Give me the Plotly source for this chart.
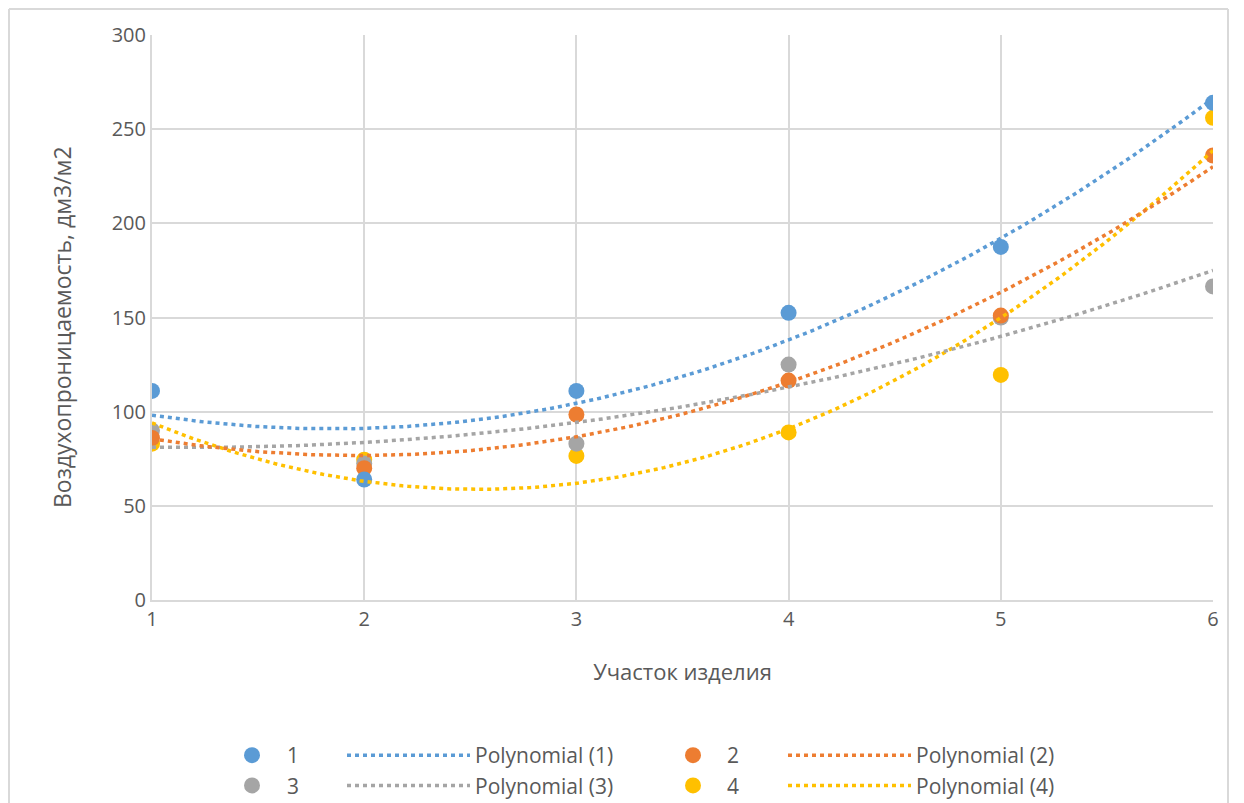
import numpy as np
import plotly.graph_objects as go

# ---- data ----
sections = [1, 2, 3, 4, 5, 6]
series_names = ["1", "2", "3", "4"]
s1 = [111, 64, 111, 152.5, 187.5, 264]
s2 = [86, 70, 98.5, 116.5, 151, 236]
s3 = [90, 72.5, 83, 125, 150, 166.5]
s4 = [83, 74.5, 76.5, 89, 119.5, 256]
colors = ["#5B9BD5", "#ED7D31", "#A5A5A5", "#FFC000"]
y_ticks = [0, 50, 100, 150, 200, 250, 300]

series = [s1, s2, s3, s4]

# page body adds an 8px offset; work in screen px and convert
OFF = 8
W, H = 1244, 803
sL, sR, sT, sB = 152, 1213, 35, 600  # plot area in screen px
L = sL - OFF
T = sT - OFF
R = W - (sR - OFF)
B = H - (sB - OFF)
pw = sR - sL
ph = sB - sT

def px_x(p):
    return (p - sL) / pw

def px_y(p):
    return (sB - p) / ph

font_family = "Open Sans, DejaVu Sans, sans-serif"
txt = "#595959"

fig = go.Figure()

# markers drawn in reverse order (series 1 on top)
for i in reversed(range(4)):
    leg = "legend" if i in (0, 2) else "legend3"
    fig.add_trace(go.Scatter(
        x=sections, y=series[i], mode="markers", name=series_names[i],
        marker=dict(color=colors[i], size=16),
        legend=leg, legendrank=i + 1,
    ))

# polynomial (order 2) trendlines fitted to the data
xs = np.linspace(sections[0], sections[-1], 200)
for i in reversed(range(4)):
    coef = np.polyfit(sections, series[i], 2)
    leg = "legend2" if i in (0, 2) else "legend4"
    fig.add_trace(go.Scatter(
        x=xs, y=np.polyval(coef, xs), mode="lines",
        name=f"Polynomial ({series_names[i]})",
        line=dict(color=colors[i], width=3.5, dash="4px,4px"),
        legend=leg, legendrank=i + 1, hoverinfo="skip",
    ))

leg_y = px_y(735)
leg_common = dict(orientation="v", yanchor="top", xanchor="left", y=leg_y,
                  font=dict(family=font_family, size=21, color=txt),
                  bgcolor="rgba(0,0,0,0)", borderwidth=0, tracegroupgap=0)

border = dict(xref="paper", yref="paper", line=dict(color="#D9D9D9", width=2),
              layer="above")

fig.update_layout(
    width=W, height=H,
    margin=dict(l=L, r=R, t=T, b=B, autoexpand=False),
    paper_bgcolor="white", plot_bgcolor="white",
    font=dict(family=font_family, color=txt, size=21),
    showlegend=True,
    legend=dict(x=px_x(217), itemwidth=60, **leg_common),
    legend2=dict(x=px_x(342), itemwidth=123, **leg_common),
    legend3=dict(x=px_x(659), itemwidth=58, **leg_common),
    legend4=dict(x=px_x(783), itemwidth=123, **leg_common),
    xaxis=dict(
        range=[1, 6], tickvals=sections, ticktext=[str(s) for s in sections],
        showgrid=True, gridcolor="#D9D9D9", gridwidth=2,
        showline=True, linecolor="#D9D9D9", linewidth=2,
        zeroline=False, ticks="", ticklen=0, ticklabelstandoff=0,
        tickfont=dict(size=20, color=txt),
        title=dict(text="Участок изделия", font=dict(size=22, color=txt), standoff=34),
    ),
    yaxis=dict(
        range=[0, 300], tickvals=y_ticks,
        showgrid=True, gridcolor="#D9D9D9", gridwidth=2,
        showline=True, linecolor="#D9D9D9", linewidth=2,
        zeroline=False, ticks="", ticklen=0, ticklabelstandoff=0,
        tickfont=dict(size=20, color=txt),
    ),
    annotations=[dict(
        text="Воздухопроницаемость, дм3/м2", textangle=-90,
        xref="paper", yref="paper", x=px_x(62), y=px_y(327),
        xanchor="center", yanchor="middle", showarrow=False,
        font=dict(size=23, color=txt, family=font_family),
    )],
    shapes=[
        dict(type="line", x0=px_x(9), x1=px_x(1228), y0=px_y(9), y1=px_y(9), **border),
        dict(type="line", x0=px_x(9), x1=px_x(9), y0=px_y(9), y1=px_y(815), **border),
        dict(type="line", x0=px_x(1228), x1=px_x(1228), y0=px_y(9), y1=px_y(815), **border),
    ],
)

fig.write_html("out.html")
